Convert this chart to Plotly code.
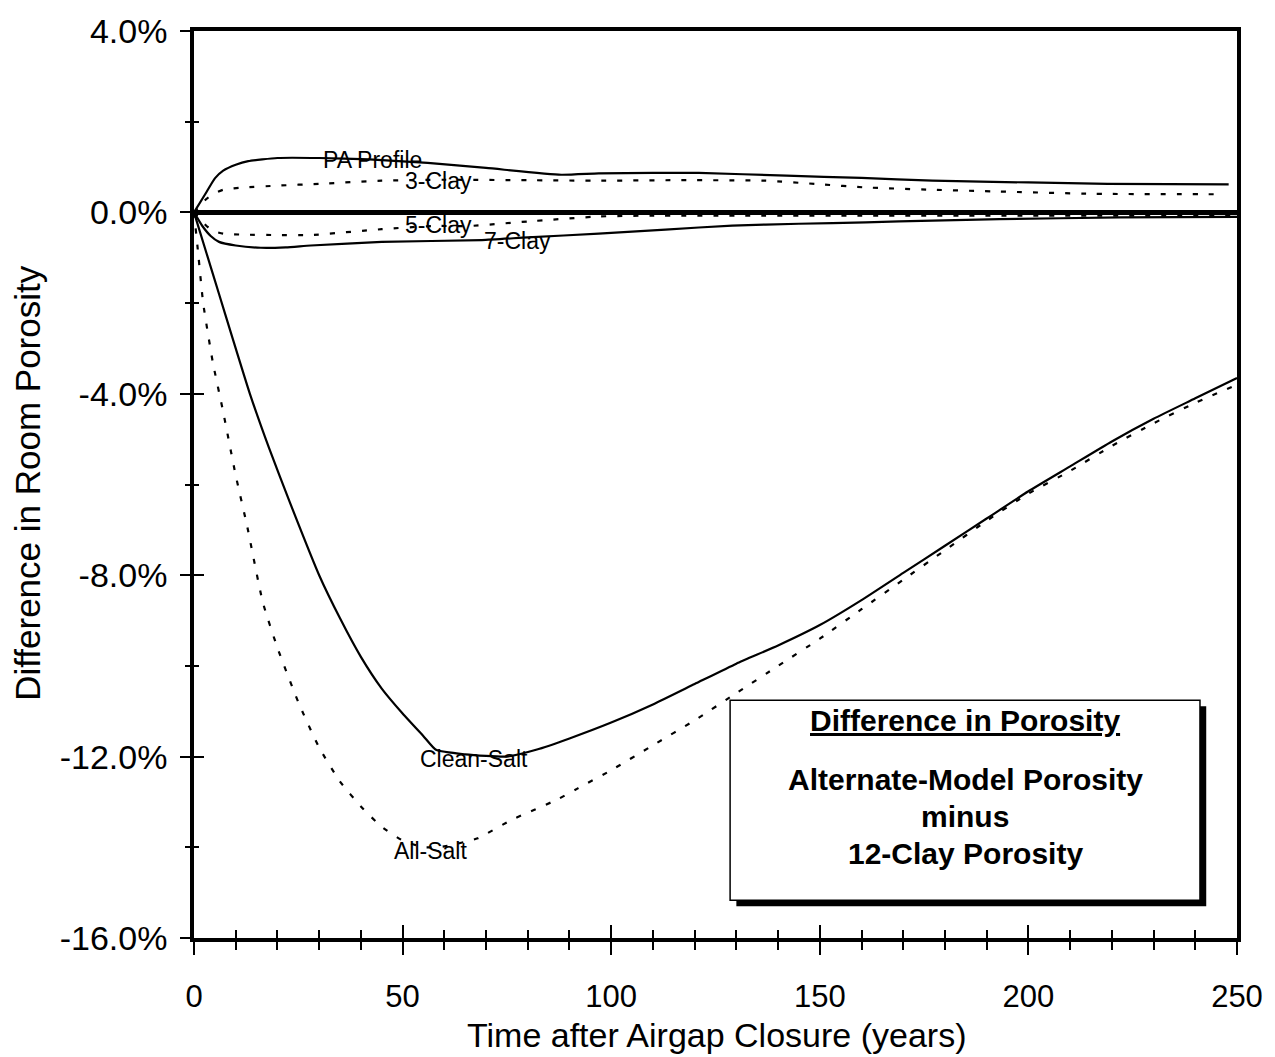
import plotly.graph_objects as go

# Time after airgap closure (years) and porosity differences (%) relative to the 12-clay model
pa_t = [0, 3, 5, 7, 10, 13, 20, 30, 42, 56, 70, 88, 97, 110, 121, 142, 160, 177, 200, 219, 248]
pa_v = [0, 0.45, 0.75, 0.92, 1.05, 1.13, 1.2, 1.2, 1.17, 1.09, 0.98, 0.83, 0.86, 0.87, 0.87, 0.81, 0.76, 0.70, 0.66, 0.63, 0.62]

c3_t = [0, 3, 5, 7, 12, 20, 30, 45, 60, 80, 97, 115, 137, 150, 161, 177, 193, 216, 247]
c3_v = [0, 0.3, 0.42, 0.5, 0.55, 0.59, 0.63, 0.70, 0.72, 0.71, 0.70, 0.71, 0.70, 0.62, 0.55, 0.5, 0.46, 0.41, 0.40]

c5_t = [0, 3, 5, 7, 12, 20, 28, 45, 57, 66, 80, 97, 110, 130, 160, 200, 250]
c5_v = [0, -0.3, -0.42, -0.47, -0.49, -0.5, -0.5, -0.37, -0.3, -0.3, -0.2, -0.09, -0.07, -0.07, -0.07, -0.07, -0.07]

c7_t = [0, 2, 4, 6, 10, 16, 22, 28, 45, 69, 80, 97, 113, 129, 145, 161, 177, 193, 222, 250]
c7_v = [0, -0.3, -0.52, -0.65, -0.73, -0.78, -0.77, -0.73, -0.65, -0.61, -0.55, -0.47, -0.38, -0.29, -0.25, -0.22, -0.18, -0.15, -0.11, -0.1]

clean_t = [0, 3, 6, 9, 13.4, 18, 23, 30, 35, 40, 45, 50, 55, 58, 65, 75, 82, 90, 100, 110, 120, 130,
           140, 150, 160, 170, 180, 190, 200, 210, 220, 230, 240, 250]
clean_v = [0, -0.9, -1.8, -2.7, -4.0, -5.2, -6.4, -8.0, -8.95, -9.8, -10.5, -11.05, -11.55, -11.85,
           -11.95, -12.0, -11.85, -11.6, -11.25, -10.85, -10.4, -9.95, -9.55, -9.1, -8.55, -7.95,
           -7.35, -6.75, -6.15, -5.6, -5.05, -4.55, -4.1, -3.65]

all_t = [0, 1, 2.2, 4.5, 7, 10, 12.7, 16.5, 20, 25, 30, 35, 40, 45, 50, 55, 60, 68, 76, 87, 92, 100,
         110, 120, 130, 140, 150, 160, 170, 180, 190, 200, 210, 220, 230, 240, 250]
all_v = [0, -0.9, -2.0, -3.3, -4.4, -5.8, -6.9, -8.6, -9.6, -10.8, -11.8, -12.55, -13.1, -13.55, -13.85,
         -14.0, -13.98, -13.8, -13.4, -12.95, -12.7, -12.3, -11.75, -11.2, -10.6, -10.0, -9.4, -8.75,
         -8.1, -7.45, -6.8, -6.2, -5.7, -5.15, -4.65, -4.2, -3.8]

# Curve labels: text, anchor time, anchor value
label_text = ["PA Profile", "3-Clay", "5-Clay", "7-Clay", "Clean-Salt", "All-Salt"]
label_t = [42.9, 58.5, 58.5, 77.5, 67.1, 56.6]
label_v = [1.16, 0.70, -0.28, -0.63, -12.05, -14.08]

# Axis ticks
x_range = [0, 250]
y_range = [-16, 4]
y_tick_vals = [4, 0, -4, -8, -12, -16]
y_tick_text = ["4.0%", "0.0%", "-4.0%", "-8.0%", "-12.0%", "-16.0%"]

FONT = "Liberation Sans, Arial, Helvetica, sans-serif"
SOLID = dict(color="black", width=2.2)
DOTTED = dict(color="black", width=2.2, dash="5px,11px")

fig = go.Figure()
series = [
    (pa_t, pa_v, SOLID, "PA Profile"),
    (c3_t, c3_v, DOTTED, "3-Clay"),
    (c5_t, c5_v, DOTTED, "5-Clay"),
    (c7_t, c7_v, SOLID, "7-Clay"),
    (clean_t, clean_v, SOLID, "Clean-Salt"),
    (all_t, all_v, DOTTED, "All-Salt"),
]
for t, v, style, name in series:
    fig.add_trace(go.Scatter(x=t, y=v, mode="lines", line=dict(**style, shape="spline", smoothing=0.5),
                             name=name, showlegend=False, hoverinfo="skip"))

# invisible trace so the overlay axes (inside tick marks) are drawn
fig.add_trace(go.Scatter(x=x_range, y=y_range, xaxis="x2", yaxis="y2", mode="markers",
                         marker=dict(opacity=0), showlegend=False, hoverinfo="skip"))

for txt, t, v in zip(label_text, label_t, label_v):
    fig.add_annotation(x=t, y=v, text=txt, showarrow=False, xref="x", yref="y",
                       xanchor="center", yanchor="middle",
                       font=dict(family=FONT, size=23, color="black"))

# Explanatory box with drop shadow
bx0, bx1, by0, by1 = 0.514, 0.9645, 0.0415, 0.262
fig.add_shape(type="rect", xref="paper", yref="paper", x0=bx0 + 0.006, x1=bx1 + 0.006,
              y0=by0 - 0.0066, y1=by1 - 0.0066, fillcolor="black", line=dict(width=0))
fig.add_shape(type="rect", xref="paper", yref="paper", x0=bx0, x1=bx1, y0=by0, y1=by1,
              fillcolor="white", line=dict(color="black", width=1.5))
box_lines = [("<b><u>Difference in Porosity</u></b>", 0.240),
             ("<b>Alternate-Model Porosity</b>", 0.175),
             ("<b>minus</b>", 0.134),
             ("<b>12-Clay Porosity</b>", 0.093)]
for txt, yy in box_lines:
    fig.add_annotation(x=(bx0 + bx1) / 2, y=yy, xref="paper", yref="paper", text=txt, showarrow=False,
                       xanchor="center", yanchor="middle",
                       font=dict(family=FONT, size=30, color="black"))

# Axis titles
fig.add_annotation(x=0.5005, y=-0.1070, xref="paper", yref="paper", showarrow=False,
                   xanchor="center", yanchor="middle",
                   text="Time after Airgap Closure (years)", font=dict(family=FONT, size=34, color="black"))
fig.add_annotation(x=-0.159, y=0.502, xref="paper", yref="paper", showarrow=False, textangle=-90,
                   xanchor="center", yanchor="middle",
                   text="Difference in Room Porosity", font=dict(family=FONT, size=35, color="black"))

ytickfont = dict(family=FONT, size=34, color="black")
xtickfont = dict(family=FONT, size=31, color="black")
fig.update_layout(
    width=1275, height=1057,
    margin=dict(l=194, r=38, t=22, b=119),
    paper_bgcolor="white", plot_bgcolor="white",
    xaxis=dict(range=x_range, dtick=50, tick0=0, showgrid=False, zeroline=False,
               showline=True, linecolor="black", linewidth=3.5, mirror=True,
               ticks="outside", ticklen=13, tickwidth=2, tickcolor="black",
               minor=dict(dtick=10, ticks="outside", ticklen=8, tickwidth=2, tickcolor="black", showgrid=False),
               tickfont=xtickfont, ticklabelstandoff=15),
    yaxis=dict(range=y_range, tickvals=y_tick_vals, ticktext=y_tick_text, showgrid=False,
               zeroline=True, zerolinecolor="black", zerolinewidth=4.5,
               showline=True, linecolor="black", linewidth=3.5, mirror=True,
               ticks="outside", ticklen=10, tickwidth=2, tickcolor="black",
               minor=dict(dtick=2, ticks="outside", ticklen=5, tickwidth=2, tickcolor="black", showgrid=False),
               tickfont=ytickfont, ticklabelstandoff=6),
    xaxis2=dict(range=x_range, overlaying="x", anchor="y2", side="bottom", dtick=50, tick0=0,
                showgrid=False, zeroline=False, showline=False, showticklabels=False,
                ticks="inside", ticklen=13, tickwidth=2, tickcolor="black",
                minor=dict(dtick=10, ticks="inside", ticklen=8, tickwidth=2, tickcolor="black", showgrid=False)),
    yaxis2=dict(range=y_range, overlaying="y", anchor="x2", side="left", dtick=4, tick0=0,
                showgrid=False, zeroline=False, showline=False, showticklabels=False,
                ticks="inside", ticklen=10, tickwidth=2, tickcolor="black",
                minor=dict(dtick=2, ticks="inside", ticklen=5, tickwidth=2, tickcolor="black", showgrid=False)),
)

fig.write_html("out.html")
